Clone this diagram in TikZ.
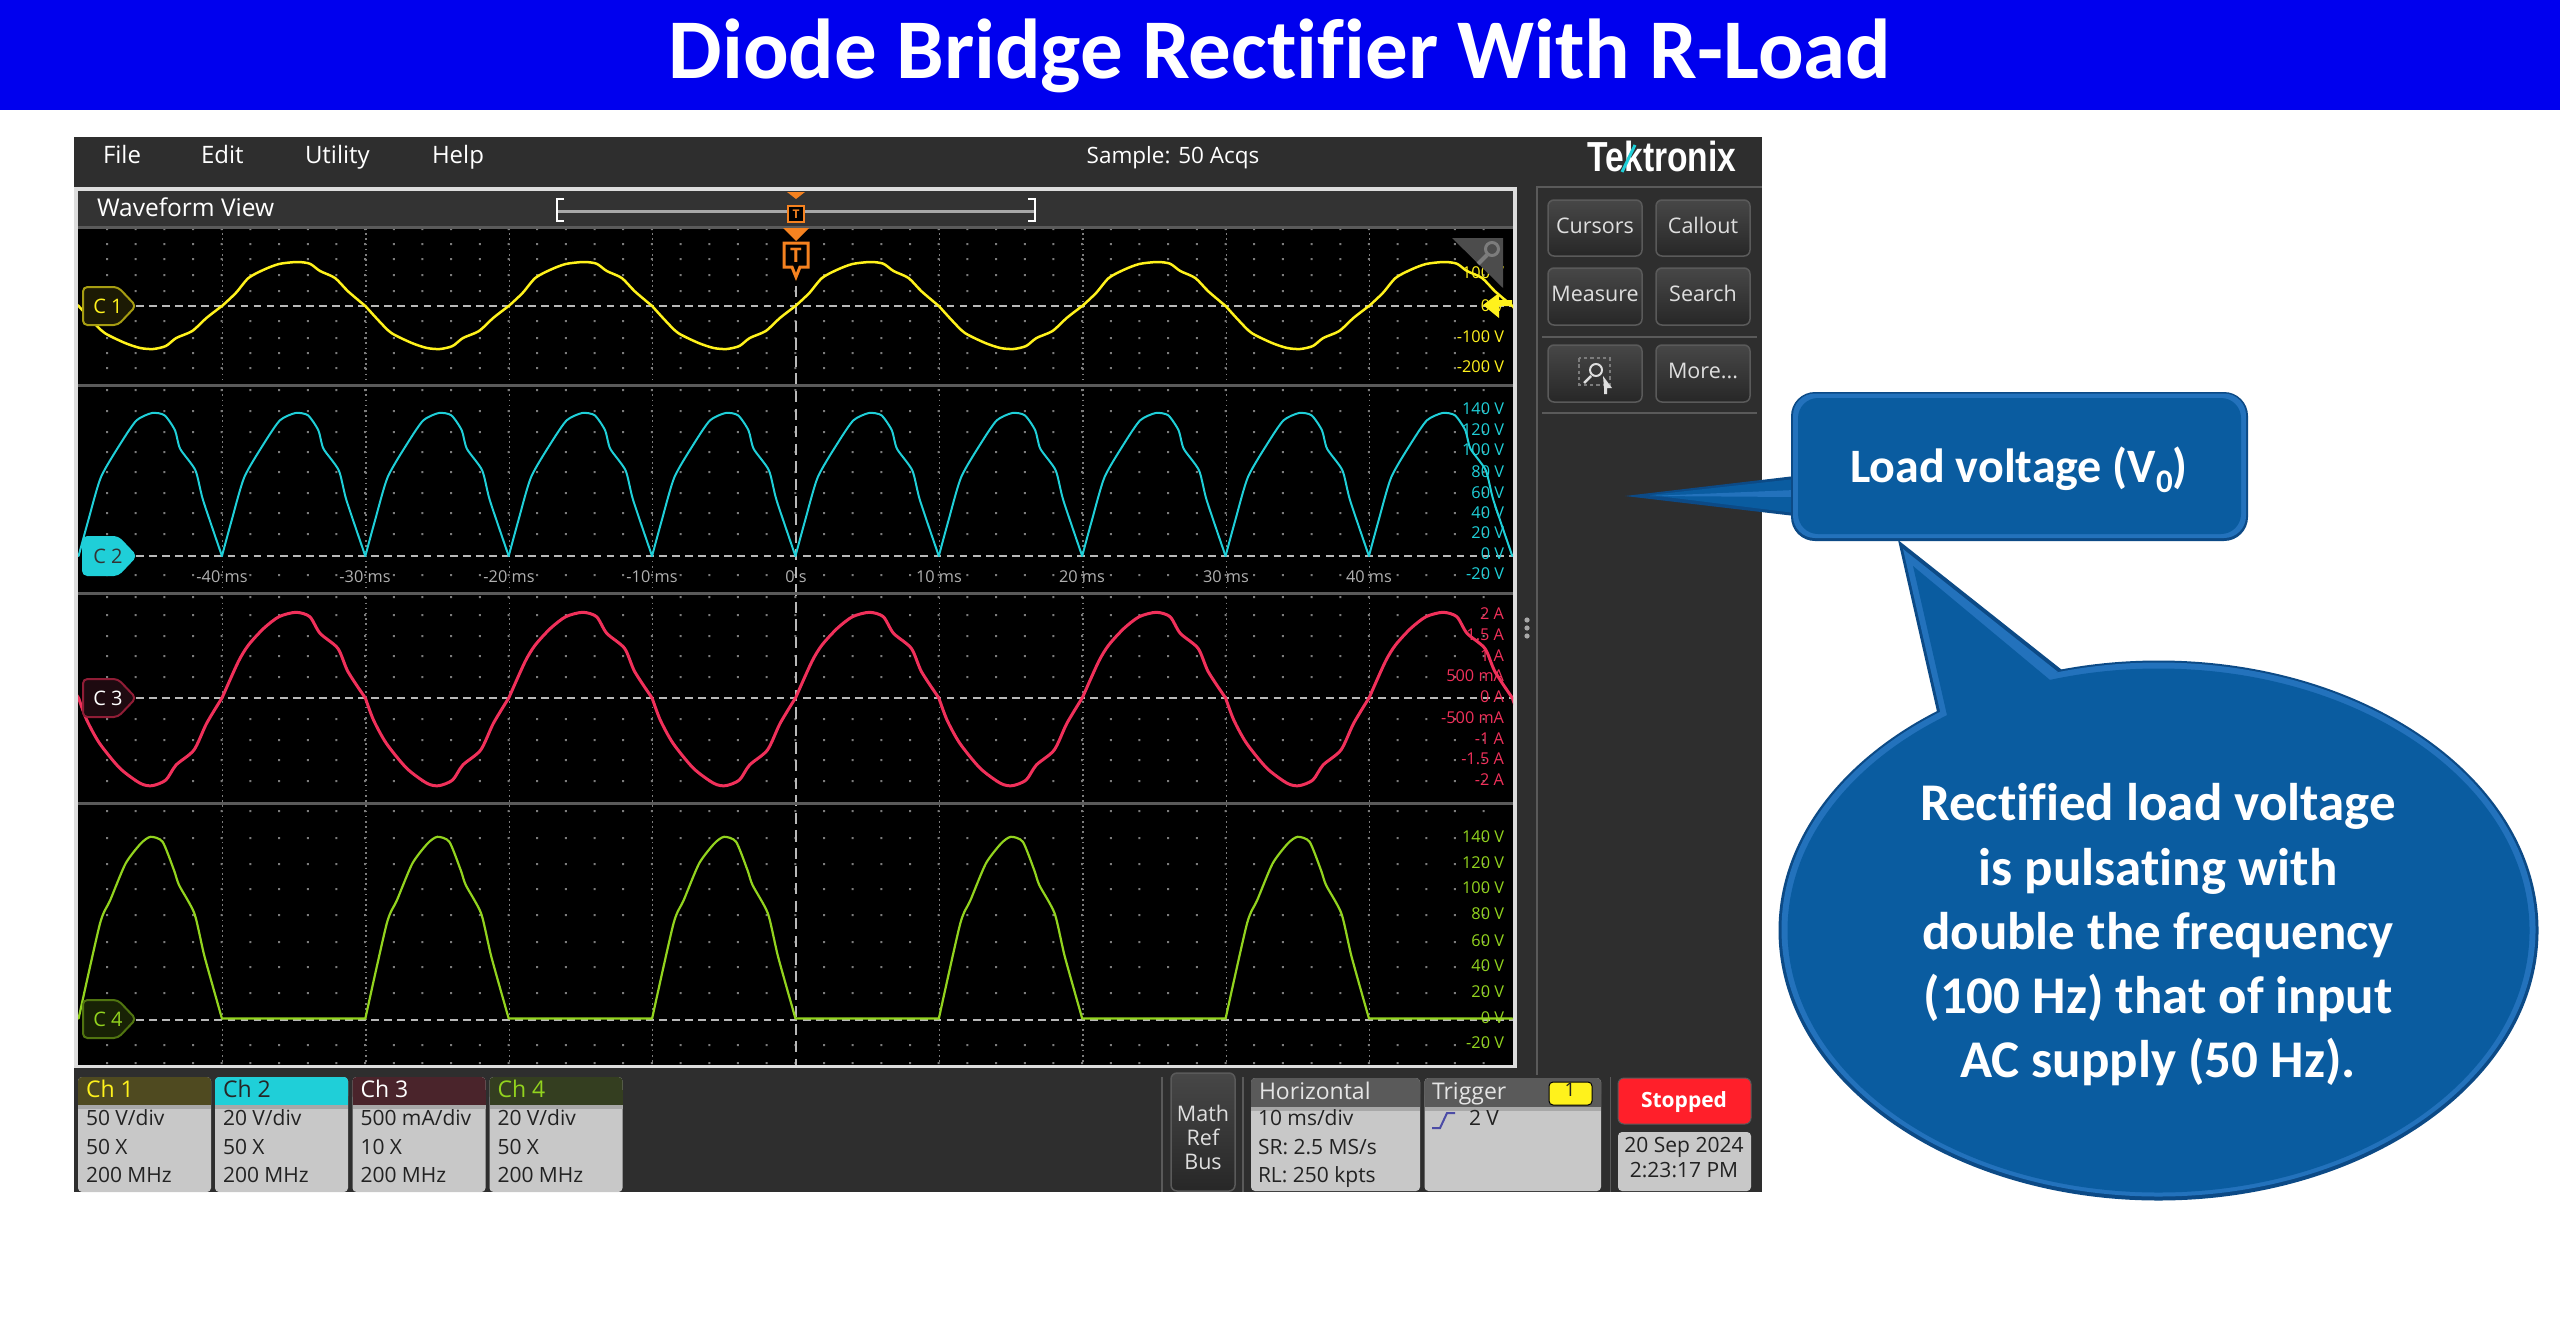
\documentclass[tikz,border=0pt]{standalone}
\usepackage{fontspec}
\usepackage{graphicx}
\setmainfont{Open Sans}
\newfontfamily\calfnt[Ligatures=NoCommon]{Carlito}
\newfontfamily\libfnt{Liberation Sans}
\newdimen\pxu \pxu=0.7113pt
\newdimen\pxt
\newcommand\pxs[1]{\setlength\pxt{#1\pxu}\fontsize{\the\pxt}{\the\pxt}\selectfont}
\definecolor{barblue}{HTML}{0000EE}
\definecolor{scopebg}{HTML}{2E2E2E}
\definecolor{panelborder}{HTML}{DDDDDD}
\definecolor{hdr}{HTML}{333333}
\definecolor{sep}{HTML}{5A5A5A}
\definecolor{griddot}{HTML}{7C7C7C}
\definecolor{zeroline}{HTML}{B8B8B8}
\definecolor{cone}{HTML}{FFF21C}
\definecolor{ctwo}{HTML}{1FCFD8}
\definecolor{cthree}{HTML}{F0305A}
\definecolor{cfour}{HTML}{92D31E}
\definecolor{timegrey}{HTML}{B0B0B0}
\definecolor{orng}{HTML}{F58220}
\definecolor{badge}{HTML}{C8C8C8}
\definecolor{band}{HTML}{A8A8A8}
\definecolor{bodytxt}{HTML}{222222}
\definecolor{mainblue}{HTML}{0A5CA0}
\definecolor{edgeblue}{HTML}{0C4A86}
\definecolor{liteblue}{HTML}{2372BC}
\definecolor{btntxt}{HTML}{DEDEDE}
\definecolor{stopred}{HTML}{FF1F2A}
\definecolor{ch1h}{HTML}{4F4A20}
\definecolor{ch3h}{HTML}{4A242B}
\definecolor{ch4h}{HTML}{343E20}
\definecolor{mkone}{HTML}{1C1A04}
\definecolor{mkthree}{HTML}{1E0A10}
\definecolor{mkfour}{HTML}{182205}
\tikzset{
 x=0.25mm,y=-0.25mm,
 txt/.style={inner sep=0pt,outer sep=0pt},
 vc/.style={yshift={-0.2539*#1 pt}},
 vk/.style={yshift={-0.229*#1 pt}},
 axlab/.style={txt,anchor=base east,font=\pxs{16.3},vc=16.3},
 timelab/.style={txt,anchor=base,font=\pxs{16.3},text=timegrey,vc=16.3},
 menu/.style={txt,anchor=base west,font=\pxs{24},text=white,vc=24},
 btn/.style={rounded corners=1.5mm,draw=sep,line width=1.5\pxu,top color=scopebg!88!white,bottom color=scopebg!85!black},
 btnlab/.style={txt,anchor=base,font=\pxs{21.5},text=btntxt,vc=21.5},
 body/.style={txt,anchor=base west,font=\pxs{21},text=bodytxt,vc=21},
 head/.style={txt,anchor=base west,font=\pxs{23},vc=23},
 wavep/.style={line join=round,line cap=round},
 mk/.style={rounded corners=1.1mm,line width=2\pxu},
 mklab/.style={txt,anchor=base,font=\pxs{20},vc=20},
 callt/.style={txt,anchor=base,text=white,font=\calfnt\pxs{53}\bfseries,vk=53},
}
% one period of each trace, x relative to start, y relative to zero line
\newcommand\shAp{plot[smooth,tension=.45] coordinates {(0,0)(13.8,-13)(26.5,-28)(41.8,-36.3)(57,-42)(75,-44)(87.8,-42.3)(98,-35)(113,-28)(126,-14.7)(143.35,0)}}
\newcommand\shAn{plot[smooth,tension=.45] coordinates {(143.35,0)(157,15)(169.4,27)(189.8,37)(205,42)(218,43)(230.6,40)(241,32)(257,25)(271.4,11.8)(286.7,0)}}
\newcommand\shB{plot[smooth,tension=.4] coordinates {(0,0)(9.7,-35.7)(22.4,-79)(42.9,-114)(58,-135.7)(73.5,-143)(86,-140.7)(96.4,-125.7)(101.5,-107.3)(116.8,-85.7)(124.5,-55.7)(143.35,0)}}
\newcommand\shCp{plot[smooth,tension=.45] coordinates {(0,0)(16.3,-36.3)(26.5,-53)(41.8,-69.7)(57,-81.3)(74,-85.7)(87.8,-81.3)(98,-64.7)(115.8,-49.7)(126,-26.3)(143.35,0)}}
\newcommand\shCn{plot[smooth,tension=.45] coordinates {(143.35,0)(151.5,22)(164.3,45.3)(184.7,70.3)(205,85.3)(216.8,87.7)(230.6,82)(240.8,67)(258.7,52)(271.4,25.3)(286.7,0)}}
\newcommand\shD{plot[smooth,tension=.4] coordinates {(0,0)(21.4,-95)(31.6,-118.3)(47,-155)(62.2,-175)(72,-181.7)(84,-176.7)(95.4,-148.3)(100.5,-133.3)(115.8,-105)(126,-61.7)(143.35,0)} -- (286.7,0)}
\newcommand\mkr[6]{% name, y, fill, draw, text, label
 \fill[#3,draw=#4,mk] (83,#2-19) -- (118,#2-19) -- (136,#2) -- (118,#2+19) -- (83,#2+19) -- cycle;
 \node[mklab,text=#5] (#1) at (108,#2) {#6};}
\newcommand\badgebox[6]{% name, x, head colour, head text, label, lines
 \begin{scope}[shift={(#2,0)}]
 \fill[badge,rounded corners=1mm] (0,1077) rectangle (133,1192);
 \fill[#3,rounded corners=1mm] (0,1077) rectangle (133,1100);
 \fill[#3] (0,1090) rectangle (133,1105);
 \fill[band] (0,1105) rectangle (133,1109);
 \node[head,text=#4] (#1) at (8,1089) {#5};
 #6
 \end{scope}}
\begin{document}
\begin{tikzpicture}
\useasboundingbox (0,0) rectangle (2560,1337);
\fill[white] (0,0) rectangle (2560,1337);
% title
\fill[barblue] (0,0) rectangle (2560,110);
\node[txt,anchor=base,text=white,font=\calfnt\pxs{85}\bfseries,vk=85] (title) at (1280,51) {Diode Bridge Rectifier With R-Load};
% scope
\fill[scopebg] (74,137) rectangle (1762,1192);
\node[menu] (mfile) at (103,155) {File};
\node[menu] (medit) at (201,155) {Edit};
\node[menu] (mutil) at (305,155) {Utility};
\node[menu] (mhelp) at (432,155) {Help};
\node[txt,anchor=base,font=\pxs{22.5},text=white,vc=22.5] (acq) at (1173,155) {Sample: 50 Acqs};
\node[txt,anchor=base,font=\libfnt\pxs{42}\bfseries,text=white,vc=42] (logo) at (1662,157) {\scalebox{0.8}[1]{Tektronix}};
\draw[ctwo,line width=3\pxu] (1622,172) -- (1635,145);
% waveform panel
\fill[panelborder] (74,187) rectangle (1517,1068);
\fill[hdr] (78,191) rectangle (1513,227);
\fill[black] (78,228) rectangle (1513,1065);
\node[txt,anchor=base west,font=\pxs{24.5},text=white,vc=24.5] (wview) at (97,208) {Waveform View};
% navigator
\draw[band,line width=3\pxu] (557,211) -- (1035,211);
\draw[white,line width=1.5\pxu] (564,199) -- (557,199) -- (557,221) -- (564,221);
\draw[white,line width=1.5\pxu] (1028,199) -- (1035,199) -- (1035,221) -- (1028,221);
\fill[orng] (787,192) -- (805,192) -- (796,199) -- cycle;
\draw[orng,fill=black,line width=2\pxu] (788,206) rectangle (804,222);
\node[txt,anchor=base,text=orng,font=\pxs{12}\bfseries,vc=12] (tsmall) at (796,214) {T};
% grid dots
\fill[griddot] \foreach \r in {229,244,259,275,291,321,338,353,368,390,411,432,452,472,493,513,534,575,597,615,636,656,677,719,740,760,781,811,838,864,889,915,942,967,993,1045,1063} {\foreach \c in {0,...,48} {({107+\c*28.68-1},\r-1) rectangle +(2,2)}};
% vertical grid lines
\foreach \k in {-4,-3,-2,-1,1,2,3,4}
 \draw[griddot,line width=1.4\pxu,dash pattern=on 1.1pt off 2.6pt] ({796+\k*143.4},228) -- ({796+\k*143.4},1065);
\draw[zeroline,line width=2\pxu,dash pattern=on 8pt off 4.5pt] (796,268) -- (796,1065);
% zero lines
\foreach \y in {306,556,698,1020}
 \draw[zeroline,line width=1.7\pxu,dash pattern=on 5.5pt off 3.8pt] (136,\y) -- (1513,\y);
% waveforms
\begin{scope}
\clip (78,228) rectangle (1513,1065);
\foreach \k in {-1,...,4} {
 \draw[wavep,cone,line width=2.5\pxu,shift={({222+(\k)*286.75},306)}] \shAp;
 \draw[wavep,cone,line width=2.5\pxu,shift={({222+(\k)*286.75},306)}] \shAn;
 \draw[wavep,cthree,line width=3\pxu,shift={({222+(\k)*286.75},698)}] \shCp;
 \draw[wavep,cthree,line width=3\pxu,shift={({222+(\k)*286.75},698)}] \shCn;
}
\foreach \k in {0,...,9}
 \draw[wavep,ctwo,line width=2\pxu,shift={({78.6+\k*143.37},556)}] \shB;
\foreach \k in {0,...,4}
 \draw[wavep,cfour,line width=2.2\pxu,shift={({78.6+\k*286.75},1018.5)}] \shD;
\end{scope}
% separators
\foreach \y in {227,385,593,803}
 \fill[sep] (78,\y-1.5) rectangle (1513,\y+1.5);
% orange trigger marker
\fill[orng] (783,228) -- (809,228) -- (796,241) -- cycle;
\draw[orng,fill=black,line width=3\pxu] (784,243) -- (808,243) -- (808,267) -- (800,267) -- (796,277) -- (792,267) -- (784,267) -- cycle;
\node[txt,anchor=base,text=orng,font=\pxs{20}\bfseries,vc=20] (tbig) at (796,255) {T};
% channel 1 labels
\node[axlab,text=cone] (a1) at (1504,273) {100 V};
\node[axlab,text=cone] (a2) at (1504,306) {0 V};
\node[axlab,text=cone] (a3) at (1504,337) {-100 V};
\node[axlab,text=cone] (a4) at (1504,367) {-200 V};
% zoom corner
\fill[sep!85!black] (1452,238) -- (1503,238) -- (1503,288) -- cycle;
\draw[griddot,line width=3\pxu] (1492,249) circle [radius=6.5];
\draw[griddot,line width=4\pxu] (1487,255) -- (1478,264);
% yellow arrow
\fill[cone] (1483,305) -- (1499,293) -- (1499,300) -- (1512,300) -- (1512,306) -- (1499,306) -- (1499,318) -- cycle;
% channel 2 labels
\foreach \n/\y/\t in {b1/409/140 V,b2/430/120 V,b3/450/100 V,b4/472/80 V,b5/493/60 V,b6/513/40 V,b7/533/20 V,b8/554/0 V,b9/574/-20 V}
 \node[axlab,text=ctwo] (\n) at (1504,\y) {\t};
\foreach \n/\y/\t in {c1/614/2 A,c2/635/1.5 A,c3/656/1 A,c4/676/500 mA,c5/697/0 A,c6/718/-500 mA,c7/739/-1 A,c8/759/-1.5 A,c9/780/-2 A}
 \node[axlab,text=cthree] (\n) at (1504,\y) {\t};
\foreach \n/\y/\t in {d1/837/140 V,d2/863/120 V,d3/888/100 V,d4/914/80 V,d5/941/60 V,d6/966/40 V,d7/992/20 V,d8/1018/0 V,d9/1043/-20 V}
 \node[axlab,text=cfour] (\n) at (1504,\y) {\t};
% time labels
\foreach \n/\x/\t in {t1/222/-40 ms,t2/365/-30 ms,t3/509/-20 ms,t4/652/-10 ms,t5/796/0 s,t6/939/10 ms,t7/1082/20 ms,t8/1226/30 ms,t9/1369/40 ms}
 \node[timelab] (\n) at (\x,577) {\t};
% markers
\mkr{mk1}{306}{mkone}{cone!65!black}{cone}{C 1}
\mkr{mk2}{556}{ctwo}{ctwo}{black!80}{C 2}
\mkr{mk3}{698}{mkthree}{cthree!60!black}{white}{C 3}
\mkr{mk4}{1019}{mkfour}{cfour!55!black}{cfour}{C 4}
% right panel
\draw[sep,line width=2\pxu] (1537,1075) -- (1537,187) -- (1762,187);
\draw[btn] (1548,200) rectangle (1642,256);
\draw[btn] (1656,200) rectangle (1750,256);
\draw[btn] (1548,268) rectangle (1642,325);
\draw[btn] (1656,268) rectangle (1750,325);
\draw[btn] (1548,345) rectangle (1642,402);
\draw[btn] (1656,345) rectangle (1750,402);
\draw[sep,line width=2\pxu] (1542,337) -- (1757,337);
\draw[sep,line width=2\pxu] (1542,413) -- (1757,413);
\node[btnlab] (bcur) at (1595,226) {Cursors};
\node[btnlab] (bcal) at (1703,226) {Callout};
\node[btnlab] (bmea) at (1595,294) {Measure};
\node[btnlab] (bsea) at (1703,294) {Search};
\node[btnlab] (bmor) at (1703,371) {More...};
\draw[griddot,line width=2\pxu,dash pattern=on 2.5pt off 2pt] (1579,358) rectangle (1610,385);
\draw[btntxt,line width=2\pxu] (1596,370) circle [radius=6];
\draw[btntxt,line width=2.5\pxu] (1591,376) -- (1584,383);
\fill[btntxt] (1603,376) -- (1612,388) -- (1607,388) -- (1607,394) -- (1604,394) -- (1604,388) -- cycle;
% drag dots
\foreach \y in {620,628,636} \fill[band] (1527,\y) circle [radius=2.6];
% channel badges
\badgebox{ch1}{78}{ch1h}{cone}{Ch 1}{\node[body] (ch1a) at (8,1118) {50 V/div};\node[body] (ch1b) at (8,1147) {50 X};\node[body] (ch1c) at (8,1175) {200 MHz};}
\badgebox{ch2}{215}{ctwo}{black!85}{Ch 2}{\node[body] (ch2a) at (8,1118) {20 V/div};\node[body] (ch2b) at (8,1147) {50 X};\node[body] (ch2c) at (8,1175) {200 MHz};}
\badgebox{ch3}{352.5}{ch3h}{white}{Ch 3}{\node[body] (ch3a) at (8,1118) {500 mA/div};\node[body] (ch3b) at (8,1147) {10 X};\node[body] (ch3c) at (8,1175) {200 MHz};}
\badgebox{ch4}{489.5}{ch4h}{cfour}{Ch 4}{\node[body] (ch4a) at (8,1118) {20 V/div};\node[body] (ch4b) at (8,1147) {50 X};\node[body] (ch4c) at (8,1175) {200 MHz};}
% lower right
\draw[sep,line width=1.5\pxu] (1162,1077) -- (1162,1192);
\draw[sep,line width=1.5\pxu] (1243,1077) -- (1243,1192);
\draw[sep,line width=1.5\pxu] (1610.5,1077) -- (1610.5,1192);
\draw[btn] (1171,1073) rectangle (1235,1191);
\node[btnlab] (m1) at (1203,1114) {Math};
\node[btnlab] (m2) at (1203,1138) {Ref};
\node[btnlab] (m3) at (1203,1162) {Bus};
% horizontal
\fill[badge,rounded corners=1mm] (1251,1078) rectangle (1420,1191);
\fill[sep,rounded corners=1mm] (1251,1078) rectangle (1420,1098);
\fill[sep] (1251,1090) rectangle (1420,1107);
\fill[band] (1251,1107) rectangle (1420,1111);
\node[head,text=white!90!black] (hh) at (1259,1091) {Horizontal};
\node[body] (h1) at (1258,1118) {10 ms/div};
\node[body] (h2) at (1258,1147) {SR: 2.5 MS/s};
\node[body] (h3) at (1258,1175) {RL: 250 kpts};
% trigger
\fill[badge,rounded corners=1mm] (1424.5,1078) rectangle (1601,1191);
\fill[sep,rounded corners=1mm] (1424.5,1078) rectangle (1601,1098);
\fill[sep] (1424.5,1090) rectangle (1601,1107);
\fill[band] (1424.5,1107) rectangle (1601,1111);
\node[head,text=white!90!black] (tt) at (1432,1091) {Trigger};
\draw[black,fill=cone,line width=1\pxu,rounded corners=1mm] (1549,1082) rectangle (1592,1105);
\node[txt,anchor=base,font=\pxs{19},text=bodytxt,vc=19] (tone) at (1570,1090) {1};
\draw[blue!50!black!70!white,line width=2\pxu] (1432,1128) -- (1440,1128) -- (1447,1113) -- (1455,1113);
\node[body] (tv) at (1469,1118) {2 V};
% stopped
\fill[stopred,rounded corners=1.5mm,draw=sep,line width=1\pxu] (1618,1078) rectangle (1751,1124);
\node[txt,anchor=base,font=\pxs{21}\bfseries,text=white,vc=21] (stop) at (1684,1100) {Stopped};
\fill[badge,rounded corners=1mm] (1618,1132) rectangle (1751,1191);
\node[txt,anchor=base,font=\pxs{21},text=bodytxt,vc=21] (dt1) at (1684,1145) {20 Sep 2024};
\node[txt,anchor=base,font=\pxs{21},text=bodytxt,vc=21] (dt2) at (1684,1170) {2:23:17 PM};
% callout 1 tail
\fill[edgeblue] (1625,496) -- (1795,476) -- (1795,516) -- cycle;
\fill[mainblue] (1650,495) -- (1795,479) -- (1795,513) -- cycle;
\fill[liteblue] (1650,496) -- (1795,490) -- (1795,497) -- cycle;
% callout 1 body
\fill[edgeblue,rounded corners=6mm] (1791,392) rectangle (2248,541);
\fill[liteblue,rounded corners=5.5mm] (1793,393.5) rectangle (2246,538);
\fill[mainblue,rounded corners=5mm] (1798,398) rectangle (2241,534);
\node[txt,anchor=base,text=white,font=\calfnt\pxs{48}\bfseries,vk=48] (loadv) at (2019,467) {Load voltage (V\raisebox{-0.2em}{\pxs{33}0})};
% callout 2
\fill[edgeblue] (2158.5,930.5) ellipse [x radius=380,y radius=270];
\fill[edgeblue] (1898,540) -- (1938,716) -- (2062,670) -- cycle;
\fill[liteblue] (2158.5,929.5) ellipse [x radius=377,y radius=267];
\fill[liteblue] (1903,549) -- (1942,720) -- (2058,672) -- cycle;
\fill[mainblue] (2158.5,930.5) ellipse [x radius=371,y radius=262];
\fill[mainblue] (1913,566) -- (1949,724) -- (2050,680) -- cycle;
\node[callt] (l1) at (2158,803) {Rectified load voltage};
\node[callt] (l2) at (2158,868) {is pulsating with};
\node[callt] (l3) at (2158,932) {double the frequency};
\node[callt] (l4) at (2158,996) {(100 Hz) that of input};
\node[callt] (l5) at (2158,1060) {AC supply (50 Hz).};
\end{tikzpicture}
\end{document}
